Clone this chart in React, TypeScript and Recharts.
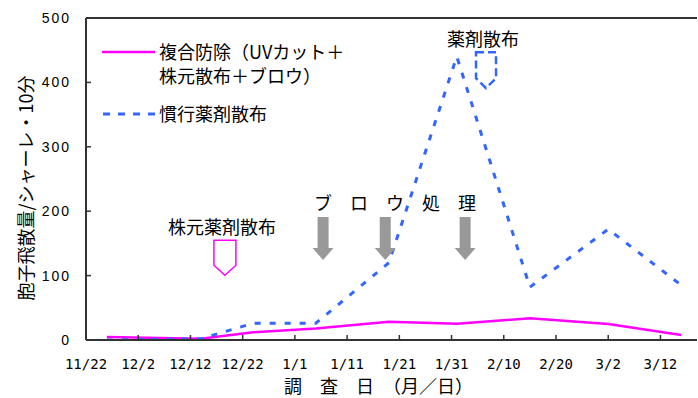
import React from "react";
import { LineChart, Line, XAxis, YAxis, ReferenceDot, ReferenceLine } from "recharts";

// survey day offsets from 11/22
const days = [4, 22, 32, 44, 58, 71, 85, 100, 114];
const combinedControl = [4.7, 2, 12, 18, 28.4, 25.3, 33.7, 24.8, 7.8];
const conventionalSpray = [0, 2, 26, 26, 120, 440, 82, 172, 85];

const xTickDays = [0, 10, 20, 30, 40, 50, 60, 70, 80, 90, 100, 110];
const xTickLabels = ["11/22", "12/2", "12/12", "12/22", "1/1", "1/11", "1/21", "1/31", "2/10", "2/20", "3/2", "3/12"];
const yTicks = [0, 100, 200, 300, 400, 500];

const seriesNames = ["複合防除（UVカット＋", "株元散布＋ブロウ）", "慣行薬剤散布"];

// annotation anchors (data space)
const baseSprayMark = { day: 26.6, value: 155 };
const sprayMark = { day: 76.6, value: 447 };
const blowArrows = [45.4, 57.3, 72.6];
const blowArrowTop = 191;

const data = days.map((d, i) => ({ day: d, m: combinedControl[i], b: conventionalSpray[i] }));

const MAGENTA = "#FF00FF";
const BLUE = "#3366FF";
const AXIS = "#333333";
const CJK = "'Noto Sans CJK JP', sans-serif";

const XTick = (props: any) => {
  const { x, y, payload } = props;
  const idx = xTickDays.indexOf(payload.value);
  return (
    <g>
      <line x1={x} y1={y} x2={x} y2={y - 5} stroke={AXIS} strokeWidth={1.5} />
      <text x={x} y={y + 29} textAnchor="middle" fontFamily="'DejaVu Sans Mono', monospace" fontSize={14} fill="#000">
        {xTickLabels[idx]}
      </text>
    </g>
  );
};

const YTick = (props: any) => {
  const { x, y, payload } = props;
  return (
    <g>
      <line x1={x} y1={y} x2={x + 5} y2={y} stroke={AXIS} strokeWidth={1.5} />
      <text x={x - 15} y={y + 5} textAnchor="end" fontFamily="'Liberation Sans', Arial, sans-serif" fontSize={14} letterSpacing={2} fill="#000">
        {payload.value}
      </text>
    </g>
  );
};

const PinkPentagon = (p: any) => {
  const { cx, cy } = p;
  return (
    <path
      d={`M${cx - 11},${cy} L${cx + 11},${cy} L${cx + 11},${cy + 25} L${cx},${cy + 35} L${cx - 11},${cy + 25} Z`}
      fill="none"
      stroke={MAGENTA}
      strokeWidth={1.5}
    />
  );
};

const BluePentagon = (p: any) => {
  const { cx, cy } = p;
  return (
    <path
      d={`M${cx - 10},${cy} L${cx + 10},${cy} L${cx + 10},${cy + 26} L${cx},${cy + 36} L${cx - 10},${cy + 26} Z`}
      fill="none"
      stroke={BLUE}
      strokeWidth={2.5}
      strokeDasharray="8 4"
    />
  );
};

const GrayArrow = (p: any) => {
  const { cx, cy } = p;
  return (
    <g>
      <rect x={cx - 5.5} y={cy} width={11} height={31} fill="#999999" />
      <path d={`M${cx - 10.5},${cy + 31} L${cx + 10.5},${cy + 31} L${cx},${cy + 43} Z`} fill="#999999" />
    </g>
  );
};

export default function App() {
  return (
    <div style={{ position: "absolute", left: 0, top: 0, width: 698, height: 398, overflow: "hidden" }}>
      <LineChart width={698} height={398} data={data} margin={{ top: 18, right: 1, bottom: 0, left: 0 }}>
        <XAxis
          dataKey="day"
          type="number"
          domain={[0, 117]}
          ticks={xTickDays}
          interval={0}
          height={58}
          tickSize={0}
          tickMargin={0}
          tick={<XTick />}
          axisLine={{ stroke: AXIS, strokeWidth: 2 }}
          allowDataOverflow
        />
        <YAxis
          type="number"
          domain={[0, 500]}
          ticks={yTicks}
          interval={0}
          width={86}
          tickSize={0}
          tickMargin={0}
          tick={<YTick />}
          axisLine={{ stroke: AXIS, strokeWidth: 2 }}
          allowDataOverflow
        />
        <ReferenceLine y={500} stroke={AXIS} strokeWidth={2} />
        <Line
          dataKey="m"
          type="linear"
          stroke={MAGENTA}
          strokeWidth={2.5}
          dot={false}
          isAnimationActive={false}
        />
        <Line
          dataKey="b"
          type="linear"
          stroke={BLUE}
          strokeWidth={3}
          strokeDasharray="6 9"
          dot={false}
          isAnimationActive={false}
        />
        <ReferenceDot x={baseSprayMark.day} y={baseSprayMark.value} r={0} shape={PinkPentagon} />
        <ReferenceDot x={sprayMark.day} y={sprayMark.value} r={0} shape={BluePentagon} />
        {blowArrows.map((d, i) => (
          <ReferenceDot key={i} x={d} y={blowArrowTop} r={0} shape={GrayArrow} />
        ))}
      </LineChart>
      <svg
        width={698}
        height={398}
        style={{ position: "absolute", left: 0, top: 0, pointerEvents: "none" }}
      >
        {/* legend */}
        <line x1={102} y1={52} x2={155} y2={52} stroke={MAGENTA} strokeWidth={2.5} />
        <text x={159} y={58.5} fontFamily={CJK} fontSize={18} fill="#000">{seriesNames[0]}</text>
        <text x={159} y={82.5} fontFamily={CJK} fontSize={18} fill="#000">{seriesNames[1]}</text>
        <line x1={103} y1={114} x2={155} y2={114} stroke={BLUE} strokeWidth={3} strokeDasharray="7 8" />
        <text x={159} y={120.5} fontFamily={CJK} fontSize={18} fill="#000">{seriesNames[2]}</text>
        {/* annotations */}
        <text x={483} y={45.5} textAnchor="middle" fontFamily={CJK} fontSize={18} fill="#000">薬剤散布</text>
        <text x={222} y={233.5} textAnchor="middle" fontFamily={CJK} fontSize={18} fill="#000">株元薬剤散布</text>
        <text x={314} y={209.5} fontFamily={CJK} fontSize={18} fill="#000" style={{ whiteSpace: "pre" }}>ブ　ロ　ウ　処　理</text>
        {/* axis titles */}
        <text x={284} y={392.5} fontFamily={CJK} fontSize={18} fill="#000" style={{ whiteSpace: "pre" }}>調　査　日　（月／日）</text>
        <text
          x={25}
          y={188}
          transform="rotate(-90 25 188)"
          textAnchor="middle"
          dominantBaseline="central"
          fontFamily={CJK}
          fontSize={18}
          fill="#000"
        >
          胞子飛散量/シャーレ・10分
        </text>
      </svg>
    </div>
  );
}
